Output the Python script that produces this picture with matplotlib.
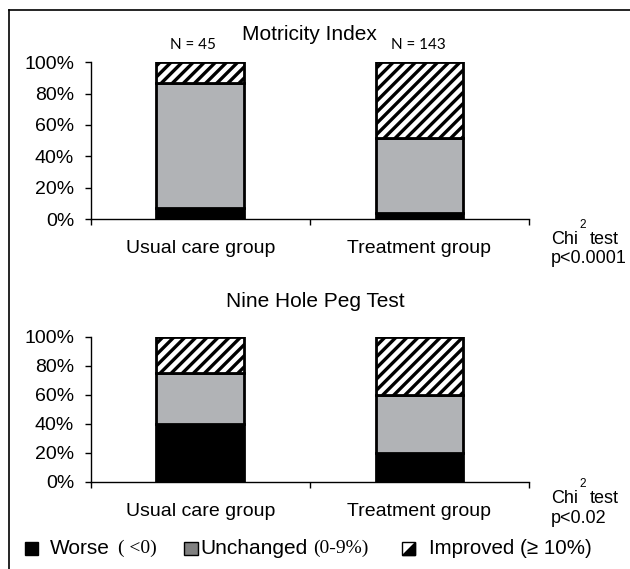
import matplotlib
matplotlib.use("Agg")
import matplotlib.pyplot as plt
from matplotlib.patches import Rectangle, Polygon
from matplotlib.lines import Line2D
import numpy as np

groups = ["Usual care group", "Treatment group"]
titles = ["Motricity Index", "Nine Hole Peg Test"]
n_labels = ["N = 45", "N = 143"]
# percentages per panel: worse, unchanged, improved
mi_worse = [7, 4]
mi_unchanged = [80, 48]
mi_improved = [13, 48]
nhpt_worse = [40, 20]
nhpt_unchanged = [35, 40]
nhpt_improved = [25, 40]
pvals = ["p<0.0001", "p<0.02"]
yticks = [0, 20, 40, 60, 80, 100]
ytick_labels = ["0%", "20%", "40%", "60%", "80%", "100%"]

GRAY = "#b1b3b6"
plt.rcParams["font.family"] = ["Liberation Sans", "DejaVu Sans"]
plt.rcParams["hatch.linewidth"] = 2.4

fig = plt.figure(figsize=(6.3, 5.69), dpi=100)
W, H = 630, 569

def fx(px):
    return px / W

def fy(py):
    return 1 - py / H

panels = [
    (62.3, 219, mi_worse, mi_unchanged, mi_improved),
    (336.7, 482, nhpt_worse, nhpt_unchanged, nhpt_improved),
]
AX_L, AX_R = 90.7, 529

x = np.arange(len(groups))
for i, (top, bot, worse, unch, imp) in enumerate(panels):
    ax = fig.add_axes([fx(AX_L), fy(bot), fx(AX_R) - fx(AX_L), fy(top) - fy(bot)])
    worse = np.array(worse)
    unch = np.array(unch)
    imp = np.array(imp)
    w = 0.40
    ax.bar(x, worse, w, color="black", edgecolor="black", linewidth=2)
    ax.bar(x, unch, w, bottom=worse, color=GRAY, edgecolor="black", linewidth=2)
    ax.bar(x, imp, w, bottom=worse + unch, color="white", edgecolor="black",
           linewidth=2, hatch="///")
    ax.set_xlim(-0.5, 1.5)
    ax.set_ylim(0, 100)
    ax.set_yticks(yticks)
    ax.set_yticklabels(ytick_labels, fontsize=14)
    ax.set_xticks(x)
    ax.set_xticklabels(groups, fontsize=14)
    ax.set_xticks([-0.5, 0.5, 1.5], minor=True)
    ax.tick_params(axis="x", which="major", length=0, pad=15)
    ax.tick_params(axis="x", which="minor", length=4, width=1, direction="out")
    ax.tick_params(axis="y", length=4, width=1, direction="out", pad=8)
    for s in ["top", "right"]:
        ax.spines[s].set_visible(False)
    ax.spines["bottom"].set_linewidth(1)
    ax.spines["left"].set_linewidth(1)
    # title
    title_y = 35 if i == 0 else 301.7
    title_x = 309 if i == 0 else 315
    fig.text(fx(title_x), fy(title_y), titles[i], fontsize=15, ha="center", va="center")
    if i == 0:
        for j, cx in enumerate([193, 418]):
            fig.text(fx(cx), fy(45), n_labels[j], ha="center", va="center",
                     fontsize=11, family=["Lato", "DejaVu Sans"])
    # Chi^2 test annotation
    chi_y = 239 if i == 0 else 498.3
    fig.text(fx(551), fy(chi_y), "Chi", fontsize=13, va="center", ha="left")
    fig.text(fx(579), fy(chi_y - 14), "2", fontsize=8.5, va="center", ha="left")
    fig.text(fx(590), fy(chi_y), "test", fontsize=13, va="center", ha="left")
    fig.text(fx(551), fy(chi_y + 20), pvals[i], fontsize=13, va="center", ha="left")

# frame (top and left edges)
fig.add_artist(Line2D([fx(9), 1], [fy(10), fy(10)], color="black", lw=1.2))
fig.add_artist(Line2D([fx(9), fx(9)], [fy(10), 0], color="black", lw=1.2))

# legend
ly = 548
def sq(x0, x1, color, ec="black"):
    fig.add_artist(Rectangle((fx(x0), fy(ly + 6.5)), fx(x1 - x0), 12.5 / H,
                             facecolor=color, edgecolor=ec, lw=1))

sq(25, 38, "black")
fig.text(fx(50), fy(ly), "Worse", fontsize=15, va="center")
fig.text(fx(118), fy(ly), "( <0)", fontsize=14, va="center", family=["Liberation Serif"])
sq(184, 198, "#808080")
fig.text(fx(200.5), fy(ly), "Unchanged", fontsize=15, va="center")
fig.text(fx(313), fy(ly), "(0-9%)", fontsize=14, va="center", family=["Liberation Serif"])
sq(402, 415, "white")
fig.add_artist(Polygon([(fx(415), fy(ly - 6.5)), (fx(415), fy(ly + 6.5)),
                        (fx(402), fy(ly + 6.5))], closed=True, facecolor="black",
                       edgecolor="black", lw=1))
fig.text(fx(429), fy(ly), "Improved (\u2265 10%)", fontsize=14.8, va="center")

fig.savefig("out.png", dpi=100)
